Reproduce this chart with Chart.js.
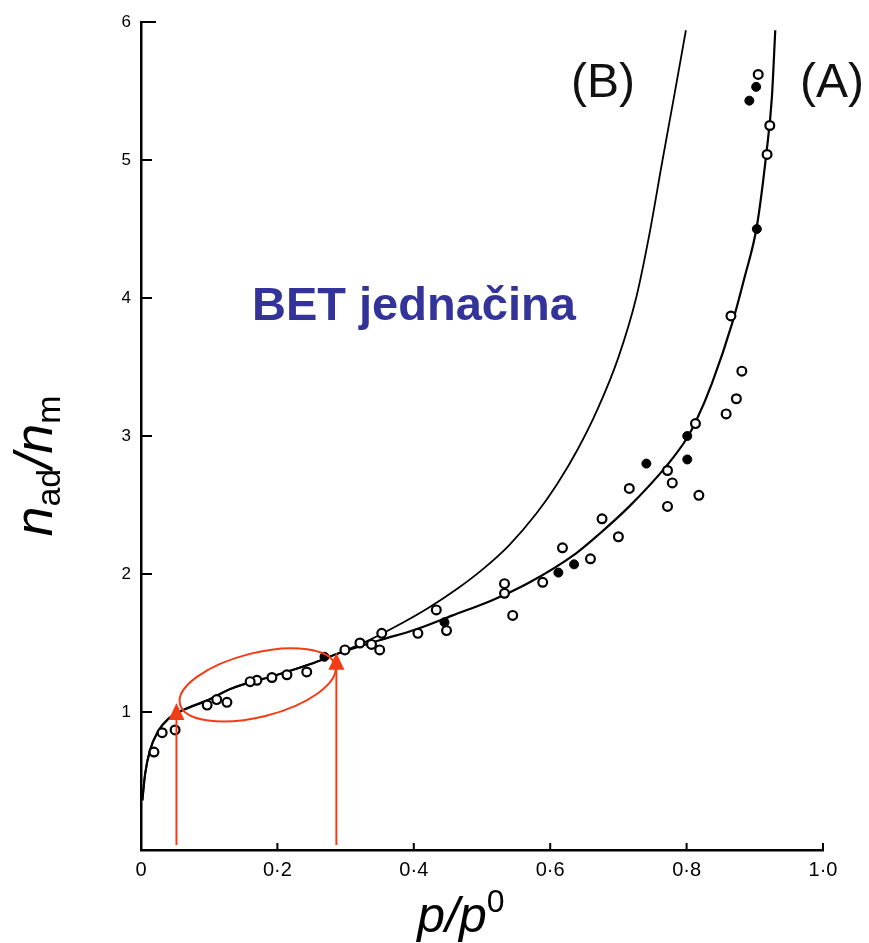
<!DOCTYPE html>
<html>
<head>
<meta charset="utf-8">
<script src="https://cdn.jsdelivr.net/npm/chart.js@4.4.1/dist/chart.umd.min.js"></script>
<style>
  html, body { margin: 0; padding: 0; background: #fff; }
  #wrap { width: 869px; height: 943px; }
</style>
</head>
<body>
<div id="wrap"><canvas id="grafica" width="869" height="943"></canvas></div>
<script>
// krive (A) i (B), procitane sa slike
const curveA = [
    [0.002, 0.36], [0.006, 0.55], [0.013, 0.72], [0.025, 0.86], [0.04, 0.95],
    [0.06, 1.01], [0.10, 1.09], [0.13, 1.165], [0.20, 1.27], [0.25, 1.35],
    [0.287, 1.42], [0.35, 1.52], [0.404, 1.60], [0.457, 1.70], [0.515, 1.81],
    [0.57, 1.94], [0.638, 2.15], [0.672, 2.29], [0.716, 2.49], [0.77, 2.78],
    [0.80, 2.98], [0.814, 3.11], [0.837, 3.38], [0.867, 3.82], [0.885, 4.15],
    [0.903, 4.52], [0.917, 5.05], [0.925, 5.45], [0.930, 5.94]
];
const curveB = [
    [0.002, 0.36], [0.006, 0.55], [0.013, 0.72], [0.025, 0.86], [0.04, 0.95],
    [0.06, 1.01], [0.10, 1.09], [0.13, 1.165], [0.20, 1.27], [0.25, 1.35],
    [0.287, 1.42], [0.33, 1.51], [0.37, 1.61], [0.42, 1.75], [0.46, 1.88],
    [0.50, 2.03], [0.54, 2.21], [0.58, 2.44], [0.61, 2.65], [0.64, 2.90],
    [0.67, 3.20], [0.70, 3.57], [0.726, 4.0], [0.745, 4.45], [0.764, 4.98],
    [0.782, 5.47], [0.799, 5.94]
];

// eksperimentalne tacke
const openPoints = [
    [0.905, 5.62], [0.922, 5.25], [0.918, 5.04], [0.865, 3.87], [0.881, 3.47],
    [0.873, 3.27], [0.858, 3.16], [0.813, 3.09], [0.772, 2.75], [0.779, 2.66],
    [0.716, 2.62], [0.818, 2.57], [0.772, 2.49], [0.676, 2.40], [0.700, 2.27],
    [0.618, 2.19], [0.659, 2.11], [0.589, 1.94], [0.533, 1.93], [0.533, 1.86],
    [0.545, 1.70], [0.433, 1.74], [0.448, 1.59], [0.406, 1.57], [0.353, 1.57],
    [0.350, 1.45], [0.321, 1.50], [0.338, 1.49], [0.299, 1.45], [0.214, 1.27],
    [0.192, 1.25], [0.170, 1.23], [0.160, 1.22], [0.243, 1.29], [0.126, 1.07],
    [0.050, 0.87], [0.031, 0.85], [0.019, 0.71], [0.097, 1.05], [0.111, 1.09]
];
const filledPoints = [
    [0.892, 5.43], [0.902, 5.53], [0.903, 4.50], [0.801, 3.00], [0.741, 2.80],
    [0.801, 2.83], [0.635, 2.07], [0.612, 2.01], [0.445, 1.65], [0.269, 1.40]
];

// ose
const xTicks = [0, 0.2, 0.4, 0.6, 0.8, 1.0];
const xTickLabels = ['0', '0·2', '0·4', '0·6', '0·8', '1·0'];
const yTicks = [1, 2, 3, 4, 5, 6];

// crvene oznake: strelice i elipsa
const arrowX = [0.052, 0.2865];
const arrowTop = [1.065, 1.43];
const arrowBase = [0.036, 0.036];
const ellipseCenter = [0.171, 1.196];

const toXY = arr => arr.map(p => ({ x: p[0], y: p[1] }));

const RED = '#f23c16';

function richText(ctx, parts, x, y) {
    // parts: {t, font, dy}
    let w = 0;
    parts.forEach(p => { ctx.font = p.font; w += ctx.measureText(p.t).width; });
    let cx = x - w / 2;
    parts.forEach(p => {
        ctx.font = p.font;
        ctx.fillText(p.t, cx, y + (p.dy || 0));
        cx += ctx.measureText(p.t).width;
    });
}

const oznake = {
    id: 'oznake',
    afterDatasetsDraw(chart) {
        const ctx = chart.ctx;
        const xs = chart.scales.x, ys = chart.scales.y;
        ctx.save();
        ctx.strokeStyle = RED;
        ctx.fillStyle = RED;
        ctx.lineWidth = 2;

        // elipsa
        ctx.beginPath();
        ctx.ellipse(xs.getPixelForValue(ellipseCenter[0]), ys.getPixelForValue(ellipseCenter[1]),
            80, 32, -14 * Math.PI / 180, 0, 2 * Math.PI);
        ctx.stroke();

        // strelice
        for (let i = 0; i < arrowX.length; i++) {
            const px = xs.getPixelForValue(arrowX[i]);
            const yTop = ys.getPixelForValue(arrowTop[i]);
            const yBase = ys.getPixelForValue(arrowBase[i]);
            ctx.beginPath();
            ctx.moveTo(px, yBase);
            ctx.lineTo(px, yTop + 14);
            ctx.stroke();
            ctx.beginPath();
            ctx.moveTo(px, yTop);
            ctx.lineTo(px - 8, yTop + 17);
            ctx.lineTo(px + 8, yTop + 17);
            ctx.closePath();
            ctx.fill();
        }
        ctx.restore();
    },
    afterDraw(chart) {
        const ctx = chart.ctx;
        const xs = chart.scales.x, ys = chart.scales.y;
        const area = chart.chartArea;
        ctx.save();

        // kratke crtice prema unutra
        ctx.strokeStyle = '#000';
        ctx.lineWidth = 2;
        yTicks.forEach(v => {
            const py = ys.getPixelForValue(v);
            ctx.beginPath();
            ctx.moveTo(area.left, py);
            ctx.lineTo(area.left + (v === 6 ? 15 : 11), py);
            ctx.stroke();
        });
        xTicks.slice(1).forEach(v => {
            const px = xs.getPixelForValue(v);
            ctx.beginPath();
            ctx.moveTo(px, area.bottom);
            ctx.lineTo(px, area.bottom - 7);
            ctx.stroke();
        });

        // naslov x ose
        ctx.fillStyle = '#000';
        ctx.textBaseline = 'alphabetic';
        ctx.textAlign = 'left';
        richText(ctx, [
            { t: 'p/p', font: 'italic 50px "Liberation Sans"' },
            { t: '0', font: '32px "Liberation Sans"', dy: -20 }
        ], 461, 932);

        // naslov y ose
        ctx.save();
        ctx.translate(52, 466);
        ctx.rotate(-Math.PI / 2);
        richText(ctx, [
            { t: 'n', font: 'italic 54px "Liberation Sans"' },
            { t: 'ad', font: '34px "Liberation Sans"', dy: 8 },
            { t: '/', font: 'italic 54px "Liberation Sans"' },
            { t: 'n', font: 'italic 54px "Liberation Sans"' },
            { t: 'm', font: '34px "Liberation Sans"', dy: 8 }
        ], 0, 0);
        ctx.restore();

        // natpisi
        ctx.font = '48px "Liberation Sans"';
        ctx.fillStyle = '#111';
        ctx.fillText('(B)', 571, 97);
        ctx.fillText('(A)', 800, 97);

        ctx.font = 'bold 47px "Liberation Sans"';
        ctx.fillStyle = '#333399';
        ctx.fillText('BET jednačina', 252, 320);

        ctx.restore();
    }
};

const ctx = document.getElementById('grafica').getContext('2d');

new Chart(ctx, {
    type: 'scatter',
    data: {
        datasets: [
            {
                label: 'otvorene',
                data: toXY(openPoints),
                pointRadius: 4.4,
                pointBorderWidth: 2.2,
                pointBorderColor: '#000',
                pointBackgroundColor: '#fff',
                showLine: false
            },
            {
                label: 'pune',
                data: toXY(filledPoints),
                pointRadius: 4.5,
                pointBorderWidth: 1,
                pointBorderColor: '#000',
                pointBackgroundColor: '#000',
                showLine: false
            },
            {
                label: '(A)',
                data: toXY(curveA),
                showLine: true,
                borderColor: '#000',
                borderWidth: 2.2,
                pointRadius: 0,
                cubicInterpolationMode: 'monotone'
            },
            {
                label: '(B)',
                data: toXY(curveB),
                showLine: true,
                borderColor: '#000',
                borderWidth: 1.8,
                pointRadius: 0,
                cubicInterpolationMode: 'monotone'
            }
        ]
    },
    options: {
        responsive: false,
        animation: false,
        clip: false,
        layout: { padding: { left: 0, right: 46, top: 22, bottom: 0 } },
        plugins: {
            legend: { display: false },
            tooltip: { enabled: false }
        },
        scales: {
            x: {
                type: 'linear',
                min: 0,
                max: 1,
                afterFit: s => { s.height = 93; },
                afterBuildTicks: s => { s.ticks = xTicks.map(v => ({ value: v })); },
                grid: { display: true, drawOnChartArea: false, drawTicks: false },
                border: { display: true, color: '#000', width: 2.5 },
                ticks: {
                    autoSkip: false,
                    maxRotation: 0,
                    padding: 8,
                    color: '#000',
                    font: { family: 'Liberation Sans', size: 20 },
                    callback: (v, i) => xTickLabels[i]
                }
            },
            y: {
                type: 'linear',
                min: 0,
                max: 6,
                afterFit: s => { s.width = 141; },
                afterBuildTicks: s => { s.ticks = [0].concat(yTicks).map(v => ({ value: v })); },
                grid: { display: true, drawOnChartArea: false, drawTicks: false },
                border: { display: true, color: '#000', width: 2.5 },
                ticks: {
                    autoSkip: false,
                    padding: 10,
                    color: '#000',
                    font: { family: 'Liberation Sans', size: 17 },
                    callback: v => (v === 0 ? '' : v)
                }
            }
        }
    },
    plugins: [oznake]
});
</script>
</body>
</html>
